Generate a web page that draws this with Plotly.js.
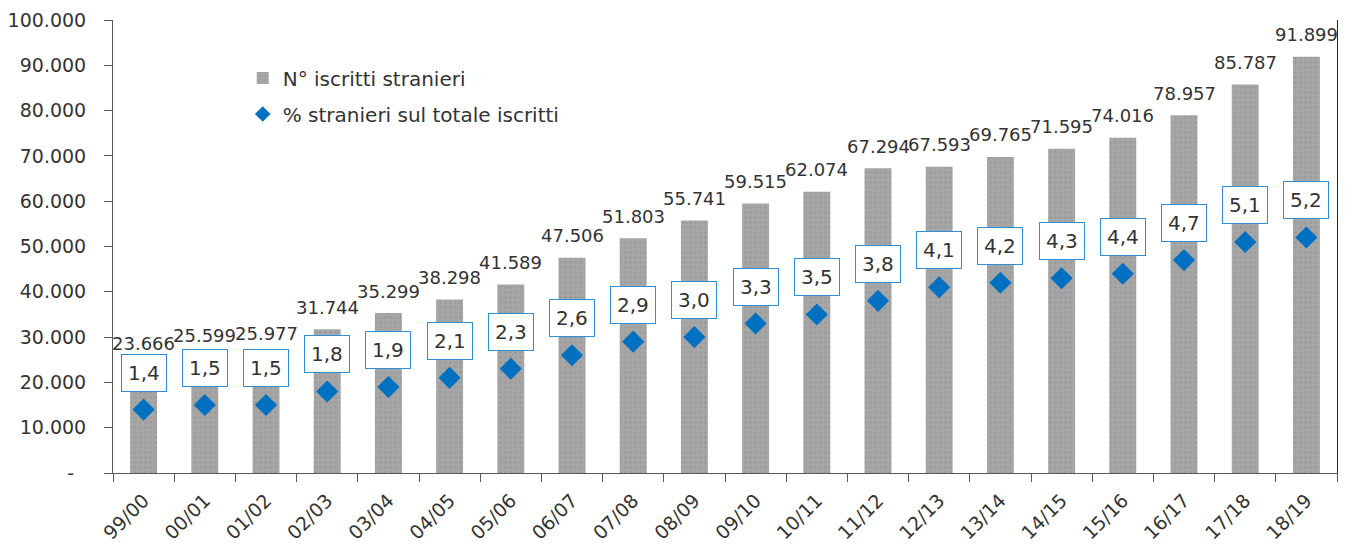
<!DOCTYPE html>
<html>
<head>
<meta charset="utf-8">
<script src="https://cdn.plot.ly/plotly-3.0.1.min.js"></script>
<style>html,body{margin:0;padding:0;background:#fff;}</style>
</head>
<body>
<div id="chart" style="width:1353px;height:546px;"></div>
<script>
// ---- Data ----
const years = ["99/00","00/01","01/02","02/03","03/04","04/05","05/06","06/07","07/08","08/09",
               "09/10","10/11","11/12","12/13","13/14","14/15","15/16","16/17","17/18","18/19"];
const iscrittiStranieri = [23666,25599,25977,31744,35299,38298,41589,47506,51803,55741,
                           59515,62074,67294,67593,69765,71595,74016,78957,85787,91899];
const percStranieri = [1.4,1.5,1.5,1.8,1.9,2.1,2.3,2.6,2.9,3.0,
                       3.3,3.5,3.8,4.1,4.2,4.3,4.4,4.7,5.1,5.2];
const yTickVals = [0,10000,20000,30000,40000,50000,60000,70000,80000,90000,100000];
const yTickText = ["-\u00a0\u00a0","10.000","20.000","30.000","40.000","50.000","60.000","70.000","80.000","90.000","100.000"];
const seriesNames = ["N° iscritti stranieri", "% stranieri sul totale iscritti"];

// ---- Formatting helpers ----
const fmtInt = v => String(v).replace(/\B(?=(\d{3})+(?!\d))/g, ".");
const fmtPct = v => v.toFixed(1).replace(".", ",");

const FONT = "DejaVu Sans, Liberation Sans, Arial, sans-serif";
const TXT = "#333333";

const traces = [
  {
    type: "bar",
    x: years,
    y: iscrittiStranieri,
    name: seriesNames[0],
    legendgroup: "a",
    marker: {
      color: "#A5A5A5",
      pattern: {shape: ".", fgcolor: "#9A9A9A", bgcolor: "#A6A6A6", size: 5, solidity: 0.2},
      line: {width: 0}
    },
    hoverinfo: "skip"
  },
  {
    type: "scatter",
    mode: "markers",
    x: years,
    y: percStranieri,
    yaxis: "y2",
    name: seriesNames[1],
    legendgroup: "b",
    marker: {symbol: "diamond", size: 17, color: "#0070C0"},
    hoverinfo: "skip"
  }
];

const annotations = [];
years.forEach((c, i) => {
  annotations.push({
    x: c, y: iscrittiStranieri[i], xref: "x", yref: "y",
    text: fmtInt(iscrittiStranieri[i]),
    showarrow: false, yanchor: "middle", yshift: 22,
    font: {family: FONT, size: 18, color: TXT}
  });
});
years.forEach((c, i) => {
  annotations.push({
    x: c, y: percStranieri[i], xref: "x", yref: "y2",
    text: fmtPct(percStranieri[i]),
    showarrow: false, yanchor: "middle", yshift: 37,
    bgcolor: "#ffffff", bordercolor: "#2E8FD9", borderwidth: 1, borderpad: 6,
    font: {family: FONT, size: 20, color: TXT}
  });
});

const layout = {
  width: 1353, height: 546,
  margin: {l: 113, r: 16, t: 20, b: 73, pad: 0},
  paper_bgcolor: "#ffffff", plot_bgcolor: "#ffffff",
  separators: ",.",
  font: {family: FONT, size: 19, color: TXT},
  bargap: 0.56,
  showlegend: true,
  legend: {
    x: 0.106, y: 0.915, xanchor: "left", yanchor: "top",
    traceorder: "grouped", tracegroupgap: 7, itemsizing: "constant",
    font: {family: FONT, size: 20, color: TXT},
    bgcolor: "rgba(0,0,0,0)"
  },
  xaxis: {
    type: "category", categoryarray: years, range: [-0.5, 19.5],
    tickson: "boundaries", ticks: "outside", ticklen: 8, tickcolor: "#595959", tickwidth: 1,
    ticklabelstandoff: 8,
    showline: true, linecolor: "#595959", linewidth: 1,
    tickangle: -45, tickfont: {family: FONT, size: 19, color: TXT},
    showgrid: false, zeroline: false, fixedrange: true
  },
  xaxis2: {
    overlaying: "x", anchor: "y", type: "linear", range: [-0.5, 19.5],
    tickmode: "linear", tick0: -0.5, dtick: 1,
    ticks: "inside", ticklen: 8, tickcolor: "#595959", tickwidth: 1,
    showticklabels: false, showgrid: false, zeroline: false, showline: false
  },
  yaxis: {
    range: [0, 100000], tickmode: "array", tickvals: yTickVals, ticktext: yTickText,
    ticks: "outside", ticklen: 8, tickcolor: "#595959", tickwidth: 1,
    ticklabelstandoff: 14,
    showline: true, linecolor: "#595959", linewidth: 1,
    tickfont: {family: FONT, size: 19, color: TXT},
    showgrid: false, zeroline: false, fixedrange: true
  },
  yaxis3: {
    overlaying: "y", side: "left", anchor: "x", range: [0, 100000],
    tickmode: "array", tickvals: yTickVals,
    ticks: "inside", ticklen: 8, tickcolor: "#595959", tickwidth: 1,
    showticklabels: false, showgrid: false, zeroline: false, showline: false
  },
  yaxis2: {
    overlaying: "y", side: "right", anchor: "x", range: [0, 10],
    showline: true, linecolor: "#262626", linewidth: 1,
    ticks: "", showticklabels: false, showgrid: false, zeroline: false
  },
  annotations: annotations
};

Plotly.newPlot("chart", traces, layout, {staticPlot: true, displayModeBar: false});
</script>
</body>
</html>
